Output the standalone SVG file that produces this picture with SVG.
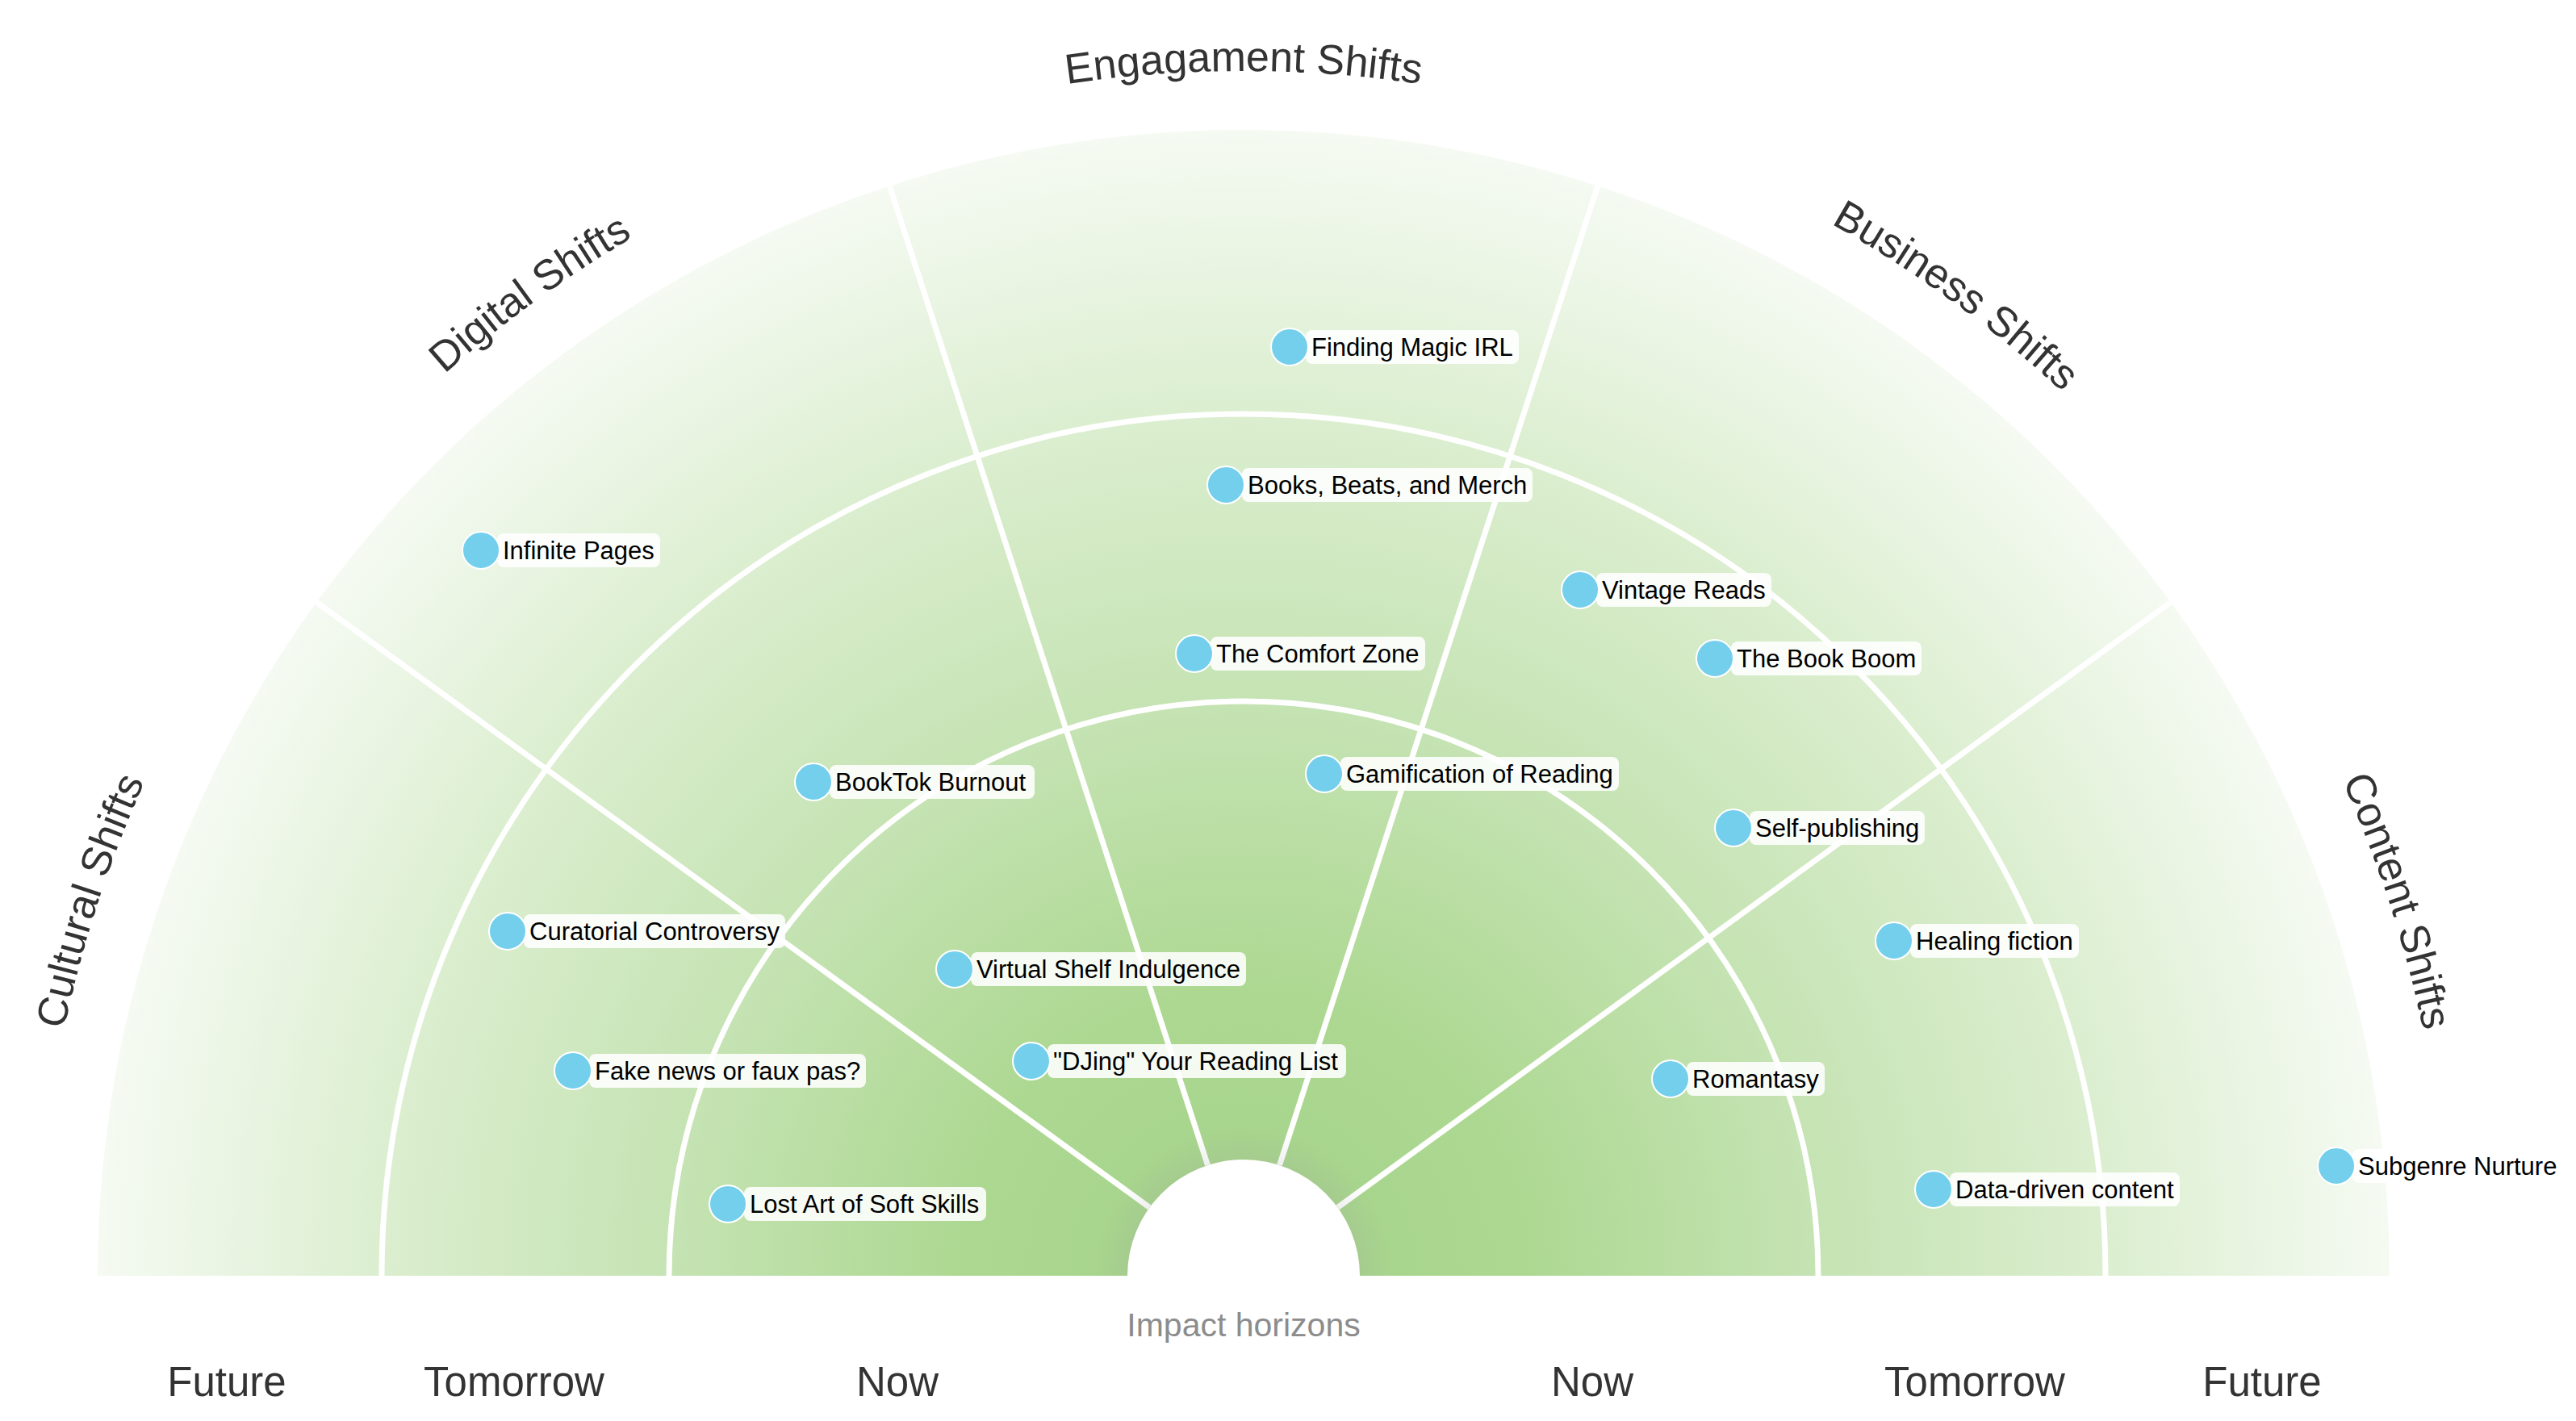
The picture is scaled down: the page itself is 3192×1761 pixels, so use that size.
<svg xmlns="http://www.w3.org/2000/svg" width="3192" height="1761" viewBox="0 0 3192 1761">
<defs>
<radialGradient id="bg" gradientUnits="userSpaceOnUse" cx="1541" cy="1581" r="1420">
<stop offset="0" stop-color="#a3d388"/>
<stop offset="0.25" stop-color="#add892"/>
<stop offset="0.5" stop-color="#c5e3b3"/>
<stop offset="0.75" stop-color="#dbeecf"/>
<stop offset="1" stop-color="#f5faf2"/>
</radialGradient>
<radialGradient id="halo" gradientUnits="userSpaceOnUse" cx="1541" cy="1581" r="185">
<stop offset="0.77" stop-color="#9a9a9a" stop-opacity="0.16"/>
<stop offset="1" stop-color="#9a9a9a" stop-opacity="0"/>
</radialGradient>
<clipPath id="top"><rect x="0" y="0" width="3192" height="1581"/></clipPath>
<path id="lblarc" d="M48,1581 A1493,1493 0 0 1 3034,1581"/>
<style>
.ring{fill:none;stroke:#ffffff;stroke-width:7}
.div{stroke:#ffffff;stroke-width:7;stroke-linecap:butt}
.dot{fill:#74cfed;stroke:#ffffff;stroke-width:2}
.box{fill:#ffffff;fill-opacity:0.88}
.lbl{font-family:"Liberation Sans",Arial,Helvetica,sans-serif;font-size:31px;fill:#000000}
.cat{font-family:"Liberation Sans",Arial,Helvetica,sans-serif;font-size:52px;fill:#333333}
.hz{font-family:"Liberation Sans",Arial,Helvetica,sans-serif;font-size:51px;fill:#333333;text-anchor:middle}
.imp{font-family:"Liberation Sans",Arial,Helvetica,sans-serif;font-size:41px;fill:#8c8c8c;text-anchor:middle}
</style>
</defs>
<rect x="0" y="0" width="3192" height="1761" fill="#ffffff"/>
<g id="radar">
<path d="M121,1581 A1420,1420 0 0 1 2961,1581 Z" fill="url(#bg)"/>
<path class="ring" d="M829,1581 A712,712 0 0 1 2253,1581"/>
<path class="ring" d="M473,1581 A1068,1068 0 0 1 2609,1581"/>
</g>
<g id="connectors">
<line class="div" x1="1657.5" y1="1496.4" x2="2689.8" y2="746.3"/>
<line class="div" x1="1585.5" y1="1444" x2="1979.8" y2="230.5"/>
<line class="div" x1="1496.5" y1="1444" x2="1102.2" y2="230.5"/>
<line class="div" x1="1424.5" y1="1496.4" x2="392.2" y2="746.3"/>
</g>
<g id="hub">
<circle cx="1541" cy="1581" r="185" fill="url(#halo)" clip-path="url(#top)"/>
<circle cx="1541" cy="1581" r="144" fill="#ffffff"/>
</g>
<g id="categories">
<text class="cat" text-anchor="middle"><textPath href="#lblarc" startOffset="10%">Cultural Shifts</textPath></text>
<text class="cat" text-anchor="middle"><textPath href="#lblarc" startOffset="30%">Digital Shifts</textPath></text>
<text class="cat" text-anchor="middle"><textPath href="#lblarc" startOffset="50%">Engagament Shifts</textPath></text>
<text class="cat" text-anchor="middle"><textPath href="#lblarc" startOffset="70%">Business Shifts</textPath></text>
<text class="cat" text-anchor="middle"><textPath href="#lblarc" startOffset="90%">Content Shifts</textPath></text>
</g>
<g id="horizons">
<text class="hz" x="281" y="1730">Future</text>
<text class="hz" x="637" y="1730">Tomorrow</text>
<text class="hz" x="1112" y="1730">Now</text>
<text class="hz" x="1973" y="1730">Now</text>
<text class="hz" x="2447" y="1730">Tomorrow</text>
<text class="hz" x="2803" y="1730">Future</text>
<text class="imp" x="1541" y="1656">Impact horizons</text>
</g>
<g id="n1"><rect class="box" x="1618" y="409" width="264" height="42" rx="8"/><circle class="dot" cx="1598" cy="430" r="23"/><text class="lbl" x="1625" y="441">Finding Magic IRL</text></g>
<g id="n2"><rect class="box" x="1539" y="580" width="360" height="42" rx="8"/><circle class="dot" cx="1519" cy="601" r="23"/><text class="lbl" x="1546" y="612">Books, Beats, and Merch</text></g>
<g id="n3"><rect class="box" x="616" y="661" width="202" height="42" rx="8"/><circle class="dot" cx="596" cy="682" r="23"/><text class="lbl" x="623" y="693">Infinite Pages</text></g>
<g id="n4"><rect class="box" x="1978" y="710" width="217" height="42" rx="8"/><circle class="dot" cx="1958" cy="731" r="23"/><text class="lbl" x="1985" y="742">Vintage Reads</text></g>
<g id="n5"><rect class="box" x="1500" y="789" width="266" height="42" rx="8"/><circle class="dot" cx="1480" cy="810" r="23"/><text class="lbl" x="1507" y="821">The Comfort Zone</text></g>
<g id="n6"><rect class="box" x="2145" y="795" width="236" height="42" rx="8"/><circle class="dot" cx="2125" cy="816" r="23"/><text class="lbl" x="2152" y="827">The Book Boom</text></g>
<g id="n7"><rect class="box" x="1661" y="938" width="345" height="42" rx="8"/><circle class="dot" cx="1641" cy="959" r="23"/><text class="lbl" x="1668" y="970">Gamification of Reading</text></g>
<g id="n8"><rect class="box" x="1028" y="948" width="254" height="42" rx="8"/><circle class="dot" cx="1008" cy="969" r="23"/><text class="lbl" x="1035" y="980">BookTok Burnout</text></g>
<g id="n9"><rect class="box" x="2168" y="1005" width="217" height="42" rx="8"/><circle class="dot" cx="2148" cy="1026" r="23"/><text class="lbl" x="2175" y="1037">Self-publishing</text></g>
<g id="n10"><rect class="box" x="649" y="1133" width="324" height="42" rx="8"/><circle class="dot" cx="629" cy="1154" r="23"/><text class="lbl" x="656" y="1165">Curatorial Controversy</text></g>
<g id="n11"><rect class="box" x="2367" y="1145" width="209" height="42" rx="8"/><circle class="dot" cx="2347" cy="1166" r="23"/><text class="lbl" x="2374" y="1177">Healing fiction</text></g>
<g id="n12"><rect class="box" x="1203" y="1180" width="341" height="42" rx="8"/><circle class="dot" cx="1183" cy="1201" r="23"/><text class="lbl" x="1210" y="1212">Virtual Shelf Indulgence</text></g>
<g id="n13"><rect class="box" x="1298" y="1294" width="370" height="42" rx="8"/><circle class="dot" cx="1278" cy="1315" r="23"/><text class="lbl" x="1305" y="1326">"DJing" Your Reading List</text></g>
<g id="n14"><rect class="box" x="730" y="1306" width="343" height="42" rx="8"/><circle class="dot" cx="710" cy="1327" r="23"/><text class="lbl" x="737" y="1338">Fake news or faux pas?</text></g>
<g id="n15"><rect class="box" x="2090" y="1316" width="171" height="42" rx="8"/><circle class="dot" cx="2070" cy="1337" r="23"/><text class="lbl" x="2097" y="1348">Romantasy</text></g>
<g id="n16"><rect class="box" x="2416" y="1453" width="285" height="42" rx="8"/><circle class="dot" cx="2396" cy="1474" r="23"/><text class="lbl" x="2423" y="1485">Data-driven content</text></g>
<g id="n17"><rect class="box" x="2915" y="1424" width="260" height="42" rx="8"/><circle class="dot" cx="2895" cy="1445" r="23"/><text class="lbl" x="2922" y="1456">Subgenre Nurture</text></g>
<g id="n18"><rect class="box" x="922" y="1471" width="300" height="42" rx="8"/><circle class="dot" cx="902" cy="1492" r="23"/><text class="lbl" x="929" y="1503">Lost Art of Soft Skills</text></g>
</svg>
